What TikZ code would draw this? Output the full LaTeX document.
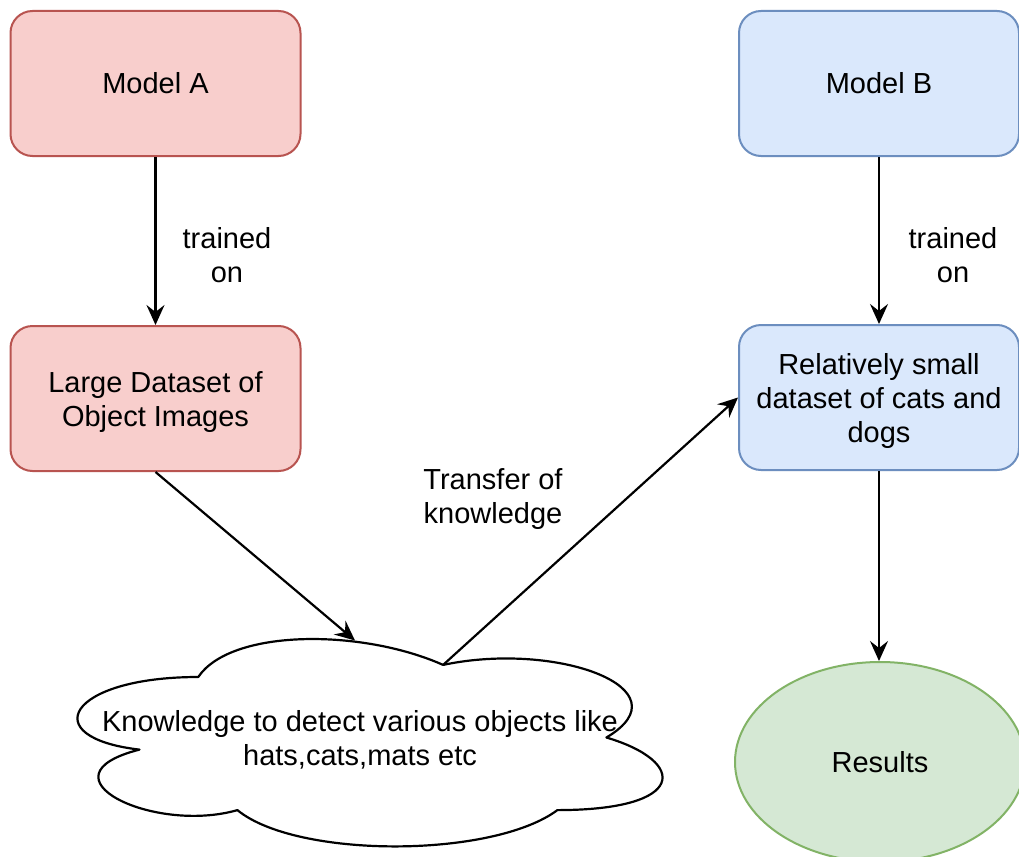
\documentclass[tikz,border=0pt]{standalone}
\usepackage{fontspec}
\setmainfont{Liberation Sans}
\usetikzlibrary{arrows.meta,shapes.geometric,calc}
\definecolor{redfill}{HTML}{F8CECC}
\definecolor{redline}{HTML}{B85450}
\definecolor{bluefill}{HTML}{DAE8FC}
\definecolor{blueline}{HTML}{6C8EBF}
\definecolor{greenfill}{HTML}{D5E8D4}
\definecolor{greenline}{HTML}{82B366}
\newcommand{\lblfont}{\fontsize{29}{34}\selectfont}
\newcommand{\topstrut}{\rule{0pt}{29pt}}
\begin{document}
\begin{tikzpicture}[x=1pt,y=-1pt,
  lbl/.style={align=center,font=\lblfont,inner sep=0pt},
  boxnode/.style={lbl,draw,rounded corners=22pt,line width=2pt,minimum width=290pt,minimum height=145pt},
  redbox/.style={boxnode,fill=redfill,draw=redline},
  bluebox/.style={boxnode,fill=bluefill,draw=blueline,minimum width=280pt},
  greenell/.style={lbl,ellipse,draw=greenline,fill=greenfill,line width=2pt,minimum width=290pt,minimum height=200pt},
  conn/.style={line width=2.2pt,-{Stealth[length=20pt,width=18pt,inset=7pt]}},
  cloudline/.style={draw=black,fill=white,line width=2.2pt,line join=round}]
\clip (0,0) rectangle (1019,856);
\fill[white] (0,0) rectangle (1019,856);

\node[redbox] (modelA) at (155.5,83.5) {Model A};
\node[bluebox] (modelB) at (879,83.5) {Model B};
\node[redbox] (large) at (155.5,398.5) {\topstrut Large Dataset of\\Object Images};
\node[bluebox] (small) at (879,397.5) {\topstrut Relatively small\\dataset of cats and\\dogs};
\node[greenell] (results) at (880,762) {Results};

% cloud (draw.io style)
\path[cloudline] (198.25,677)
  .. controls (67.65,677) and (35,737.5) .. (139.48,749.6)
  .. controls (35,776.22) and (152.54,834.3) .. (237.43,810.1)
  .. controls (296.2,858.5) and (492.1,858.5) .. (557.4,810.1)
  .. controls (688,810.1) and (688,761.7) .. (606.4,737.5)
  .. controls (688,689.1) and (557.4,640.7) .. (443.1,664.9)
  .. controls (361.5,628.6) and (230.9,628.6) .. (198.25,677) -- cycle;
\node[lbl] (know) at (360,739.5) {Knowledge to detect various objects like\\hats,cats,mats etc};
\coordinate (cloudin) at (355,640.5);
\coordinate (cloudout) at (443.1,664.9);

\draw[conn] (modelA) -- (large);
\draw[conn] (modelB) -- (small);
\draw[conn] (large.south) -- (cloudin);
\draw[conn] (cloudout) -- (small.west);
\draw[conn] (small.south) -- (small.south |- results.north);

\node[lbl] (trainA) at (227,255) {trained\\on};
\node[lbl] (trainB) at (953,255) {trained\\on};
\node[lbl] (transfer) at (493,499) {Transfer of\\knowledge};
\end{tikzpicture}
\end{document}
